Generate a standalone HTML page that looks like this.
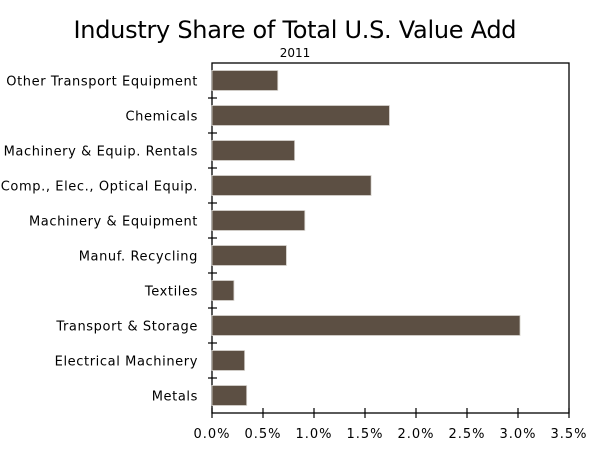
<!DOCTYPE html>
<html><head><meta charset="utf-8"><style>
body{margin:0;background:#fff;}
svg text{font-family:"DejaVu Sans","Liberation Sans",sans-serif;fill:#000;}
</style></head><body>
<svg width="600" height="453" xmlns="http://www.w3.org/2000/svg">
<text x="295" y="38" font-size="24" text-anchor="middle" textLength="443">Industry Share of Total U.S. Value Add</text>
<text x="295" y="57" font-size="12" text-anchor="middle">2011</text>
<g id="plot"></g>
</svg>
<script>
const categories=["Other Transport Equipment","Chemicals","Machinery & Equip. Rentals","Comp., Elec., Optical Equip.","Machinery & Equipment","Manuf. Recycling","Textiles","Transport & Storage","Electrical Machinery","Metals"];
const values=[0.645,1.74,0.81,1.56,0.91,0.73,0.215,3.02,0.32,0.34];
const tickValues=[0,0.5,1,1.5,2,2.5,3,3.5];
const tickLabels=["0.0%","0.5%","1.0%","1.5%","2.0%","2.5%","3.0%","3.5%"];
const NS="http://www.w3.org/2000/svg";
const g=document.getElementById('plot');
const L=212,R=569,T=63,B=413;
const x=v=>L+v/3.5*(R-L);
const band=(B-T)/categories.length;
const y=i=>T+i*band;
function mk(tag,a){const e=document.createElementNS(NS,tag);for(const k in a)e.setAttribute(k,a[k]);g.appendChild(e);return e;}
const frame=mk('rect',{x:L,y:T,width:R-L,height:B-T,fill:'none',stroke:'#000','stroke-width':1.3});


categories.forEach((c,i)=>{
  const b=mk('rect',{x:L,y:y(i)+band/2-10,width:x(values[i])-L,height:20,fill:'#5c4f43',stroke:'#d8d4cf','stroke-width':0.8});
  
  
  const t=mk('text',{x:198,y:y(i)+band/2+5,'font-size':13,'text-anchor':'end','letter-spacing':0.6});
  t.textContent=c;
  
  
  if(i>0){const tk=mk('line',{x1:L-4,x2:L+5,y1:y(i),y2:y(i),stroke:'#000','stroke-width':1.2});
  
  }
});
tickValues.forEach((v,i)=>{
  const tk=mk('line',{x1:x(v),x2:x(v),y1:B-5,y2:B+5,stroke:'#000','stroke-width':1.2});
  
  
  const t=mk('text',{x:x(v),y:B+25,'font-size':13,'text-anchor':'middle','letter-spacing':1});
  t.textContent=tickLabels[i];
  
  
});
</script>
</body></html>
